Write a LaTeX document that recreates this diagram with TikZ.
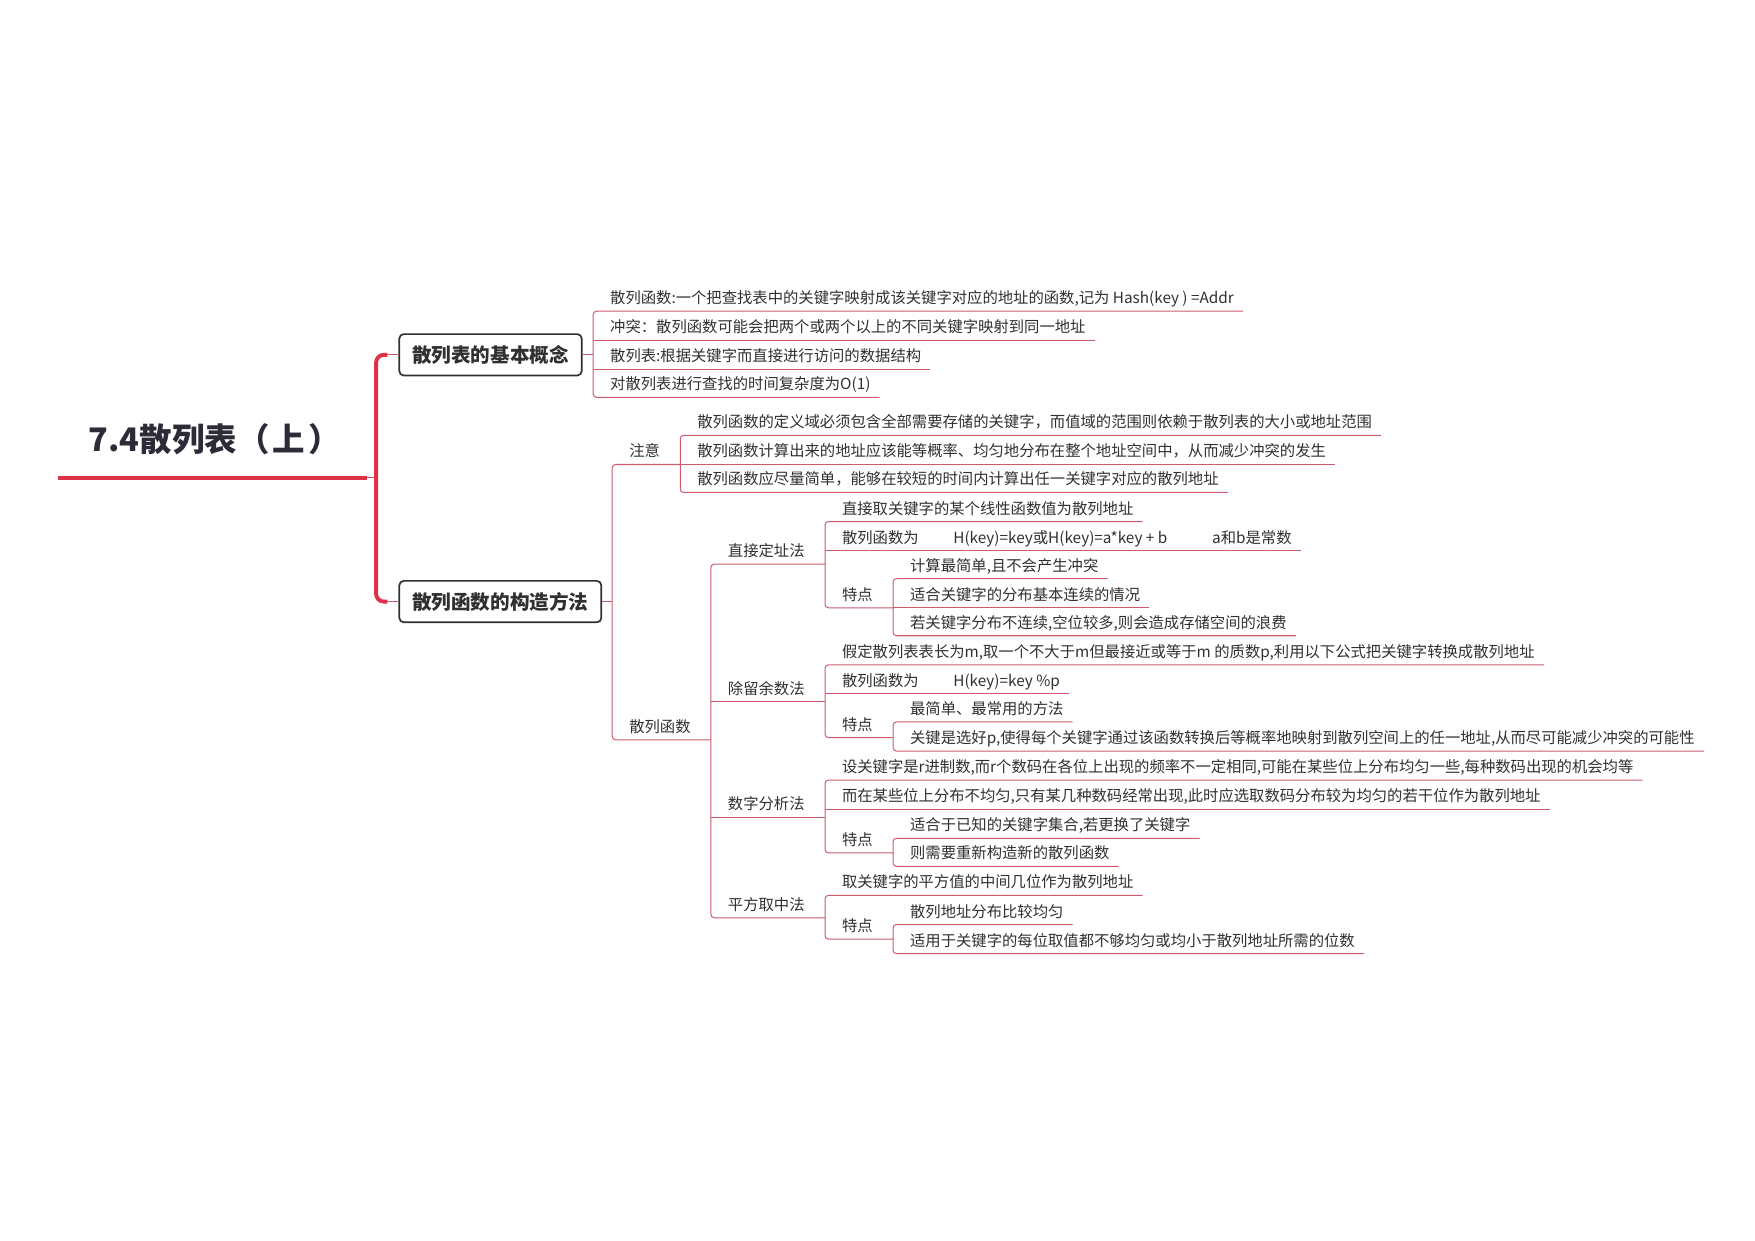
\documentclass[tikz,border=0pt]{standalone}
\usepackage{fontspec}
\setmainfont{Noto Sans CJK SC}
\definecolor{mainred}{RGB}{222,50,72}
\definecolor{linkred}{RGB}{205,90,110}
\definecolor{inkgray}{RGB}{48,48,48}
\definecolor{titlegray}{RGB}{44,44,56}

\begin{document}
\begin{tikzpicture}[x=1pt, y=-1pt,
    rootstyle/.style={anchor=south, minimum width=276pt, inner xsep=0pt, inner ysep=0pt, text depth=23pt, text=titlegray, font=\fontsize{29}{34}\selectfont\bfseries},
    topicstyle/.style={anchor=west, draw=inkgray, line width=1.5pt, rounded corners=4pt, fill=white, inner xsep=11.5pt, minimum height=37pt, text=inkgray, font=\fontsize{17.5}{20}\selectfont\bfseries},
    nodebase/.style={anchor=south west, inner xsep=0pt, inner ysep=0pt, text height=11pt, text depth=6.5pt, text=inkgray, font=\fontsize{13.7}{16}\selectfont, execute at begin node={\hspace*{15pt}}},
    subjstyle/.style={nodebase, execute at end node={\hspace*{18pt}}},
    leafstyle/.style={nodebase, execute at end node={\hspace*{8pt}}},
    mainline/.style={draw=mainred, line width=3.5pt},
    linkline/.style={draw=linkred, line width=0.9pt}
]
    \useasboundingbox (0,0) rectangle (1568,1108);

    \node[rootstyle] (root) at (190,427) {\hspace*{4pt}7.4散列表（\hspace{3pt}上\hspace{3pt}）};
    \node[topicstyle] (concept) at (356,317) {散列表的基本概念};
    \node[topicstyle] (method) at (356,537.5) {散列函数的构造方法};

    % basic concepts
    \node[leafstyle] (def) at (530,278) {散列函数:一个把查找表中的关键字映射成该关键字对应的地址的函数,记为 Hash(key ) =Addr};
    \node[leafstyle] (clash) at (530,304) {冲突：散列函数可能会把两个或两个以上的不同关键字映射到同一地址};
    \node[leafstyle] (table) at (530,330) {散列表:根据关键字而直接进行访问的数据结构};
    \node[leafstyle] (cost) at (530,355) {对散列表进行查找的时间复杂度为O(1)};

    % construction methods
    \node[subjstyle] (note) at (547,415) {注意};
    \node[leafstyle] (note1) at (note.south east |- 0,389) {散列函数的定义域必须包含全部需要存储的关键字，而值域的范围则依赖于散列表的大小或地址范围};
    \node[leafstyle] (note2) at (note.south east |- 0,415) {散列函数计算出来的地址应该能等概率、均匀地分布在整个地址空间中，从而减少冲突的发生};
    \node[leafstyle] (note3) at (note.south east |- 0,440) {散列函数应尽量简单，能够在较短的时间内计算出任一关键字对应的散列地址};

    \node[subjstyle] (func) at (547,661) {散列函数};

    \node[subjstyle] (direct) at (func.south east |- 0,504) {直接定址法};
    \node[leafstyle] (direct1) at (direct.south east |- 0,466) {直接取关键字的某个线性函数值为散列地址};
    \node[leafstyle] (direct2) at (direct.south east |- 0,492) {散列函数为\hspace{31pt}H(key)=key或H(key)=a*key + b\hspace{40pt}a和b是常数};
    \node[subjstyle] (direct3) at (direct.south east |- 0,543) {特点};
    \node[leafstyle] (direct3a) at (direct3.south east |- 0,517) {计算最简单,且不会产生冲突};
    \node[leafstyle] (direct3b) at (direct3.south east |- 0,543) {适合关键字的分布基本连续的情况};
    \node[leafstyle] (direct3c) at (direct3.south east |- 0,568) {若关键字分布不连续,空位较多,则会造成存储空间的浪费};

    \node[subjstyle] (divide) at (func.south east |- 0,627) {除留余数法};
    \node[leafstyle] (divide1) at (divide.south east |- 0,594) {假定散列表表长为m,取一个不大于m但最接近或等于m 的质数p,利用以下公式把关键字转换成散列地址};
    \node[leafstyle] (divide2) at (divide.south east |- 0,620) {散列函数为\hspace{31pt}H(key)=key \%p};
    \node[subjstyle] (divide3) at (divide.south east |- 0,659) {特点};
    \node[leafstyle] (divide3a) at (divide3.south east |- 0,645) {最简单、最常用的方法};
    \node[leafstyle] (divide3b) at (divide3.south east |- 0,671) {关键是选好p,使得每个关键字通过该函数转换后等概率地映射到散列空间上的任一地址,从而尽可能减少冲突的可能性};

    \node[subjstyle] (digit) at (func.south east |- 0,730) {数字分析法};
    \node[leafstyle] (digit1) at (digit.south east |- 0,697) {设关键字是r进制数,而r个数码在各位上出现的频率不一定相同,可能在某些位上分布均匀一些,每种数码出现的机会均等};
    \node[leafstyle] (digit2) at (digit.south east |- 0,723) {而在某些位上分布不均匀,只有某几种数码经常出现,此时应选取数码分布较为均匀的若干位作为散列地址};
    \node[subjstyle] (digit3) at (digit.south east |- 0,762) {特点};
    \node[leafstyle] (digit3a) at (digit3.south east |- 0,749) {适合于已知的关键字集合,若更换了关键字};
    \node[leafstyle] (digit3b) at (digit3.south east |- 0,774) {则需要重新构造新的散列函数};

    \node[subjstyle] (square) at (func.south east |- 0,820) {平方取中法};
    \node[leafstyle] (square1) at (square.south east |- 0,800) {取关键字的平方值的中间几位作为散列地址};
    \node[subjstyle] (square2) at (square.south east |- 0,839) {特点};
    \node[leafstyle] (square2a) at (square2.south east |- 0,826) {散列地址分布比较均匀};
    \node[leafstyle] (square2b) at (square2.south east |- 0,852) {适用于关键字的每位取值都不够均匀或均小于散列地址所需的位数};

    % main branch
    \coordinate (fork) at (336,427);
    \draw[mainline] (root.south west) -- (root.south east);
    \draw[linkline] (root.south east) -- (fork);
    \draw[mainline, rounded corners=7pt] ([xshift=-10pt]concept.west) -| (fork) |- ([xshift=-10pt]method.west);
    \draw[linkline] ([xshift=-10pt]concept.west) -- (concept.west);
    \draw[linkline] ([xshift=-10pt]method.west) -- (method.west);
    \draw[linkline] (concept.east) -- (concept.east -| def.west);
    \draw[linkline] (method.east) -- (method.east -| note.west);

    % brackets
    \draw[linkline, rounded corners=3pt] (def.south east) -- (def.south west) -- (cost.south west) -- (cost.south east);
    \draw[linkline, rounded corners=3pt] (note.south east) -- (note.south west) -- (func.south west) -- (func.south east);
    \draw[linkline, rounded corners=3pt] (note1.south east) -- (note1.south west) -- (note3.south west) -- (note3.south east);
    \draw[linkline, rounded corners=3pt] (direct.south east) -- (direct.south west) -- (square.south west) -- (square.south east);
    \draw[linkline, rounded corners=3pt] (direct1.south east) -- (direct1.south west) -- (direct3.south west) -- (direct3.south east);
    \draw[linkline, rounded corners=3pt] (direct3a.south east) -- (direct3a.south west) -- (direct3c.south west) -- (direct3c.south east);
    \draw[linkline, rounded corners=3pt] (divide1.south east) -- (divide1.south west) -- (divide3.south west) -- (divide3.south east);
    \draw[linkline, rounded corners=3pt] (divide3a.south east) -- (divide3a.south west) -- (divide3b.south west) -- (divide3b.south east);
    \draw[linkline, rounded corners=3pt] (digit1.south east) -- (digit1.south west) -- (digit3.south west) -- (digit3.south east);
    \draw[linkline, rounded corners=3pt] (digit3a.south east) -- (digit3a.south west) -- (digit3b.south west) -- (digit3b.south east);
    \draw[linkline, rounded corners=3pt] (square1.south east) -- (square1.south west) -- (square2.south west) -- (square2.south east);
    \draw[linkline, rounded corners=3pt] (square2a.south east) -- (square2a.south west) -- (square2b.south west) -- (square2b.south east);
    \foreach \n in {clash, table, note2, divide, digit, direct2, direct3b, divide2, digit2}
        \draw[linkline] (\n.south west) -- (\n.south east);
\end{tikzpicture}
\end{document}
